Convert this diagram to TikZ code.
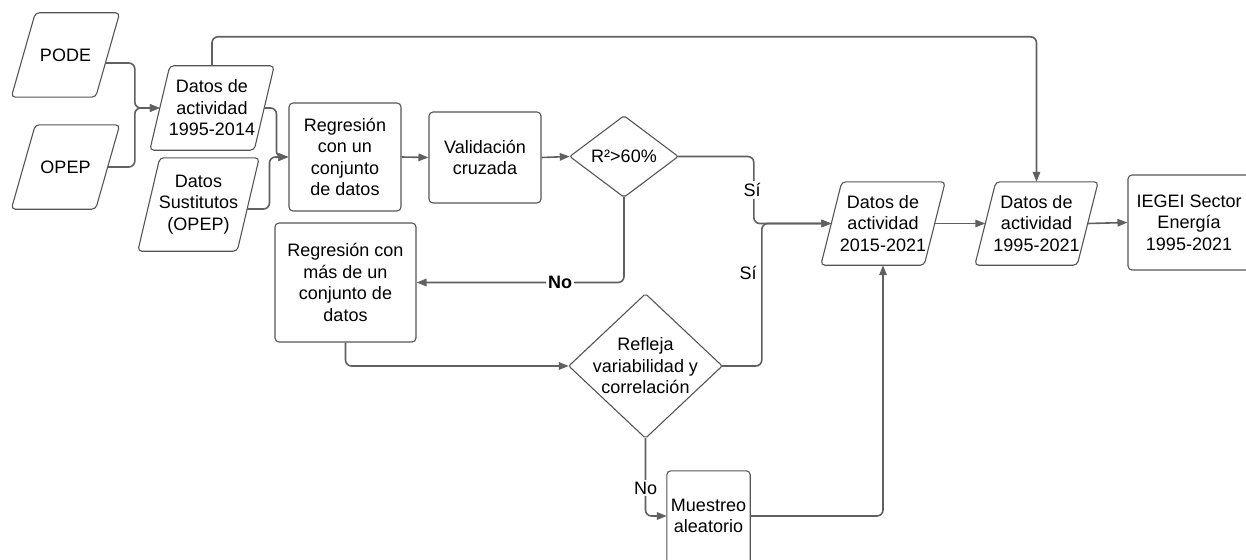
\documentclass[tikz,border=0pt]{standalone}
\usepackage{fontspec}
\setmainfont{Liberation Sans}
\usetikzlibrary{arrows.meta,calc}
\definecolor{linegray}{HTML}{606060}
\definecolor{boxgray}{HTML}{555555}
\newcommand\parashape[2]{\draw[shapeline, rounded corners=4pt] ([xshift=-#2]#1.south west) -- ([xshift=-#2]#1.south east) -- ([xshift=#2]#1.north east) -- ([xshift=#2]#1.north west) -- cycle;}
\newcommand\diashape[1]{\draw[shapeline, rounded corners=2pt] (#1.north) -- (#1.east) -- (#1.south) -- (#1.west) -- cycle;}
\tikzset{
  txt/.style={font=\fontsize{18}{21.5}\selectfont, align=center, inner sep=0pt},
  holder/.style={txt, rectangle},
  boxnode/.style={txt, rectangle, draw=boxgray, line width=1.1pt, rounded corners=4pt},
  shapeline/.style={draw=boxgray, line width=1.1pt},
  conn/.style={draw=linegray, line width=1.6pt, rounded corners=6pt, -{Triangle[length=10pt,width=7.5pt,fill=linegray]}},
  lbl/.style={txt, fill=white, inner sep=2pt},
}
\begin{document}
\begin{tikzpicture}[x=1pt,y=-1pt]
\useasboundingbox (0,0) rectangle (1246,559);
\fill[white] (0,0) rectangle (1246,559);
\clip (0,0) rectangle (1246,559);

% nodes
\node[holder, minimum width=84pt, minimum height=84pt] (pode) at (65.5,55) {PODE};
\parashape{pode}{12pt}
\node[holder, minimum width=84pt, minimum height=84pt] (opep) at (65.5,167) {OPEP};
\parashape{opep}{12pt}
\node[holder, minimum width=104pt, minimum height=84pt] (d1) at (212,108) {Datos de\\actividad\\1995-2014};
\parashape{d1}{10pt}
\node[holder, minimum width=99pt, minimum height=93pt] (ds) at (198.5,204.5) {Datos\\Sustitutos\\(OPEP)};
\parashape{ds}{11pt}
\node[boxnode, minimum width=112pt, minimum height=108pt] (r1) at (345,157) {Regresión\\con un\\conjunto\\de datos};
\node[boxnode, minimum width=112pt, minimum height=91pt] (val) at (485,157.5) {Validación\\cruzada};
\node[holder, minimum width=108pt, minimum height=81pt] (r2d) at (624,156.5) {R²>60\%};
\diashape{r2d}
\node[boxnode, minimum width=141pt, minimum height=119pt] (r2) at (345.5,282.5) {Regresión con\\más de un\\conjunto de\\datos};
\node[holder, minimum width=153pt, minimum height=144pt] (ref) at (645.5,366) {Refleja\\variabilidad y\\correlación};
\diashape{ref}
\node[holder, minimum width=83pt, minimum height=90pt] (mue) at (708.5,516) {Muestreo\\aleatorio};
\draw[shapeline, rounded corners=4pt] (mue.north west) rectangle ([yshift=-12pt]mue.south east);
\node[holder, minimum width=103pt, minimum height=83pt] (d2) at (883,223.5) {Datos de\\actividad\\2015-2021};
\parashape{d2}{10.5pt}
\node[holder, minimum width=102pt, minimum height=83pt] (d3) at (1036.5,223.5) {Datos de\\actividad\\1995-2021};
\parashape{d3}{10.5pt}
\node[boxnode, minimum width=122pt, minimum height=95pt] (ieg) at (1189,222.5) {IEGEI Sector\\Energía\\1995-2021};

% connectors
\draw[conn] ([xshift=-2.3pt,yshift=-8pt]pode.east) -| ([xshift=-25pt]d1.west) -- (d1.west);
\draw[conn] (opep.east) -| ([xshift=-25pt]d1.west) -- (d1.west);
\draw[conn] (d1.east) -| ([xshift=-12pt]r1.west) -- (r1.west);
\draw[conn] ([xshift=-1.2pt,yshift=-4.5pt]ds.east) -| ([xshift=-19pt]r1.west) -- (r1.west);
\draw[conn] (r1.east) -- (val.west);
\draw[conn] (val.east) -- (r2d.west);
\draw[conn] (r2d.east) -| ([xshift=-77.5pt]d2.west) -- (d2.west);
\draw[conn] (r2d.south) |- (r2.east);
\draw[conn] (r2.south) |- (ref.west);
\draw[conn] (ref.east) -| ([xshift=-69.5pt]d2.west) -- (d2.west);
\draw[conn] (ref.south) |- (mue.west);
\draw[conn] (mue.east) -| (d2.south);
\draw[conn] (d2.east) -- (d3.west);
\draw[conn] (d3.east) -- (ieg.west);
\draw[conn] (d1.north) |- ([yshift=145pt]d3.north) -- (d3.north);

% labels
\node[lbl] (si1) at (752,190) {Sí};
\node[lbl, font=\fontsize{18}{21.5}\selectfont\bfseries] (no1) at (560,282.5) {No};
\node[txt] (si2) at (748,273) {Sí};
\node[lbl] (no2) at (645.5,488) {No};
\end{tikzpicture}
\end{document}
